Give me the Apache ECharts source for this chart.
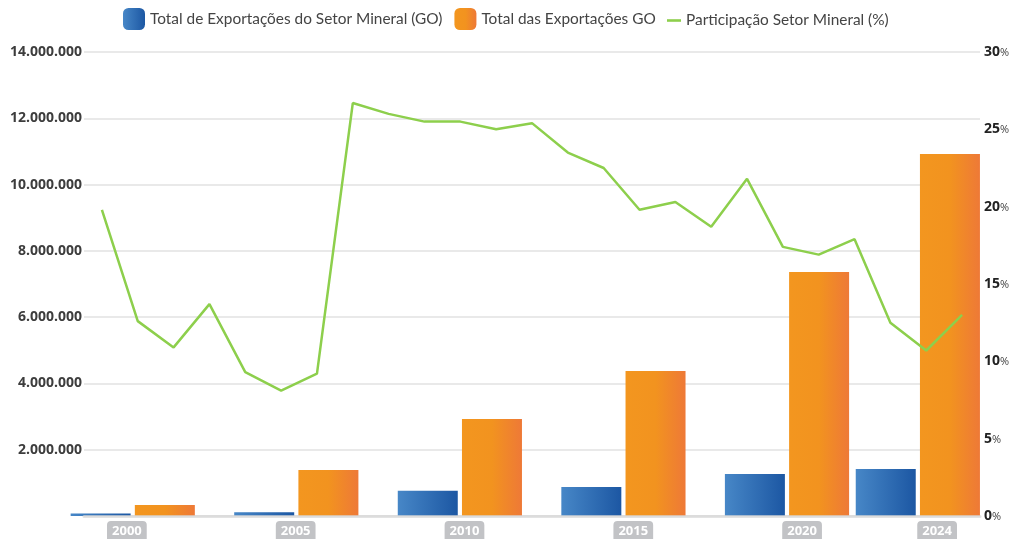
<!DOCTYPE html>
<html>
<head>
<meta charset="utf-8">
<script src="https://cdn.jsdelivr.net/npm/echarts@6/dist/echarts.min.js"></script>
<style>
  html, body { margin: 0; padding: 0; background: #fff; }
  #main { width: 1009px; height: 539px; }
</style>
</head>
<body>
<div id="main"></div>
<script>
// anos da linha (participação)
const years = ['2000', '2001', '2002', '2003', '2004', '2005', '2006', '2007', '2008', '2009',
  '2010', '2011', '2012', '2013', '2014', '2015', '2016', '2017', '2018', '2019',
  '2020', '2021', '2022', '2023', '2024'];
const participacao = [19.8, 12.6, 10.9, 13.7, 9.3, 8.1, 9.2, 26.7, 26.0, 25.5,
  25.5, 25.0, 25.4, 23.5, 22.5, 19.8, 20.3, 18.7, 21.8, 17.4,
  16.9, 17.9, 12.5, 10.7, 13.0];

// anos das barras
const barYears = [2000, 2005, 2010, 2015, 2020, 2024];
const setorMineral = [75000, 115000, 760000, 875000, 1270000, 1420000];
const totalExport = [330000, 1390000, 2930000, 4375000, 7360000, 10920000];

const chart = echarts.init(document.getElementById('main'));

const fmtMil = (v) => String(v).replace(/\B(?=(\d{3})+(?!\d))/g, '.');

const blueGrad = new echarts.graphic.LinearGradient(0, 0, 1, 0, [
  { offset: 0, color: '#4787c7' },
  { offset: 1, color: '#1c57a3' }
]);
const orangeGrad = new echarts.graphic.LinearGradient(0, 0, 1, 0, [
  { offset: 0, color: '#f3961f' },
  { offset: 0.5, color: '#f2931f' },
  { offset: 1, color: '#ee7937' }
]);

const legendText = { fontFamily: 'Lato', fontSize: 15.4, color: '#444' };

const option = {
  animation: false,
  textStyle: { fontFamily: 'Lato' },
  legend: [
    {
      left: 118,
      top: 3,
      itemWidth: 22,
      itemHeight: 22,
      itemGap: 12,
      textStyle: legendText,
      data: [
        { name: 'Total de Exportações do Setor Mineral (GO)', itemStyle: { borderRadius: 3 } },
        { name: 'Total das Exportações GO', itemStyle: { borderRadius: 3 } }
      ]
    },
    {
      left: 662,
      top: 8,
      itemWidth: 14,
      itemHeight: 22,
      textStyle: legendText,
      data: [
        { name: 'Participação Setor Mineral (%)', icon: 'path://M0,0 L14,0 L14,2.6 L0,2.6 Z' }
      ]
    }
  ],
  grid: { left: 84, right: 29, top: 52, bottom: 23, containLabel: false, outerBoundsMode: 'none' },
  xAxis: [
    {
      type: 'category',
      data: years,
      position: 'bottom',
      boundaryGap: true,
      axisLabel: { show: false },
      axisTick: { show: false },
      axisLine: { show: true, lineStyle: { color: 'rgba(215,215,215,0.7)', width: 3 } },
      z: 5
    },
    {
      type: 'value',
      position: 'bottom',
      min: 1998.51,
      max: 2025.9,
      show: false
    },
    {
      type: 'value',
      position: 'bottom',
      min: 1998.73,
      max: 2025.27,
      axisLine: { show: false },
      axisTick: { show: false },
      splitLine: { show: false },
      axisLabel: {
        customValues: barYears,
        formatter: (v) => String(v),
        color: '#fff',
        fontFamily: 'Open Sans',
        fontWeight: 'bold',
        fontSize: 13,
        backgroundColor: '#c2c3c6',
        borderRadius: [4, 4, 0, 0],
        padding: [4, 5, 6, 5],
        margin: 5
      }
    }
  ],
  yAxis: [
    {
      type: 'value',
      min: 0,
      max: 14000000,
      interval: 2000000,
      axisLine: { show: false },
      axisTick: { show: false },
      splitLine: { lineStyle: { color: '#e2e2e2', width: 1.5 } },
      axisLabel: {
        showMinLabel: false,
        formatter: fmtMil,
        color: '#3d3d3d',
        fontFamily: 'Open Sans',
        fontWeight: 'bold',
        fontSize: 14,
        margin: 2
      }
    },
    {
      type: 'value',
      min: 0,
      max: 30,
      interval: 5,
      position: 'right',
      axisLine: { show: false },
      axisTick: { show: false },
      splitLine: { show: false },
      axisLabel: {
        margin: 4,
        formatter: (v) => '{n|' + v + '}{p|%}',
        rich: {
          n: { fontFamily: 'Open Sans', fontWeight: 'bold', fontSize: 14, color: '#222' },
          p: { fontFamily: 'Open Sans', fontSize: 11, color: '#444', padding: [2, 0, 0, 0] }
        }
      }
    }
  ],
  series: [
    {
      name: 'Total de Exportações do Setor Mineral (GO)',
      type: 'bar',
      xAxisIndex: 1,
      yAxisIndex: 0,
      barWidth: 60,
      barGap: '7%',
      itemStyle: { color: blueGrad },
      data: barYears.map((y, i) => [y, setorMineral[i]])
    },
    {
      name: 'Total das Exportações GO',
      type: 'bar',
      xAxisIndex: 1,
      yAxisIndex: 0,
      barWidth: 60,
      barGap: '7%',
      itemStyle: { color: orangeGrad },
      data: barYears.map((y, i) => [y, totalExport[i]])
    },
    {
      name: 'Participação Setor Mineral (%)',
      type: 'line',
      xAxisIndex: 0,
      yAxisIndex: 1,
      showSymbol: false,
      symbol: 'none',
      lineStyle: { color: '#8dcf4c', width: 2.5 },
      itemStyle: { color: '#8dcf4c' },
      data: participacao
    }
  ]
};

chart.setOption(option);
</script>
</body>
</html>
